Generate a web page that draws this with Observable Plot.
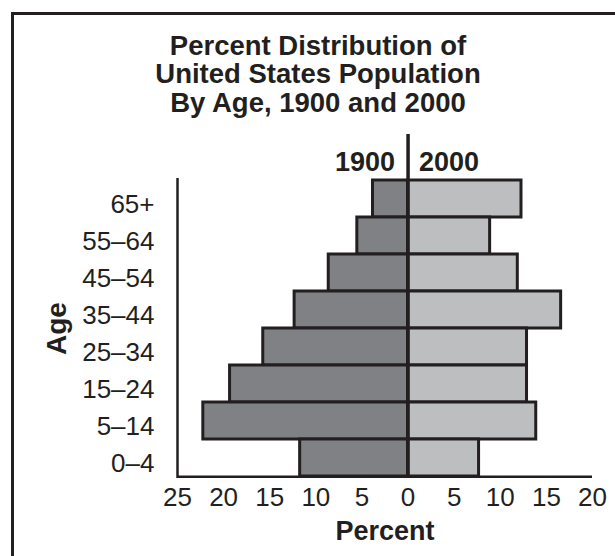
<!DOCTYPE html>
<html>
<head>
<meta charset="utf-8">
<script src="https://cdn.jsdelivr.net/npm/d3@7"></script>
<script src="https://cdn.jsdelivr.net/npm/@observablehq/plot@0.6"></script>
<style>
  html, body { margin: 0; padding: 0; background: #fff; }
  #wrap { position: relative; width: 615px; height: 556px; overflow: hidden; background: #fff; }
  #box { position: absolute; left: 11px; top: 12px; width: 700px; height: 700px; border: 3px solid #231f20; box-sizing: border-box; }
  #title { position: absolute; left: 12px; width: 612px; top: 32px; text-align: center;
           font-family: "Liberation Sans", Arial, sans-serif; font-weight: bold; font-size: 27.5px;
           line-height: 28.3px; color: #231f20; }
  #chart { position: absolute; left: 0; top: 120px; }
</style>
</head>
<body>
<div id="wrap">
  <div id="box"></div>
  <div id="title">Percent Distribution of<br>United States Population<br>By Age, 1900 and 2000</div>
  <div id="chart"></div>
</div>
<script>
const ages = ["65+", "55–64", "45–54", "35–44", "25–34", "15–24", "5–14", "0–4"];
const pct1900 = [3.8, 5.5, 8.6, 12.3, 15.7, 19.3, 22.2, 11.7];
const pct2000 = [12.3, 8.9, 11.9, 16.6, 12.9, 12.9, 13.9, 7.7];
const xTicks = [-25, -20, -15, -10, -5, 0, 5, 10, 15, 20];
const yearLabels = ["1900", "2000"];

const ink = "#231f20";
const d1900 = ages.map((a, i) => ({age: a, v: pct1900[i]}));
const d2000 = ages.map((a, i) => ({age: a, v: pct2000[i]}));

const frameH = 300;
const chart = Plot.plot({
  width: 615,
  height: 436,
  marginLeft: 177,
  marginRight: 23,
  marginTop: 58,
  marginBottom: 78,
  x: {domain: [-25, 20]},
  y: {domain: ages, padding: 0},
  style: {fontFamily: "'Liberation Sans', Arial, sans-serif", color: ink, background: "transparent", overflow: "visible"},
  marks: [
    Plot.barX(d1900, {y: "age", x1: d => -d.v, x2: 0, fill: "#808184", stroke: ink, strokeWidth: 3}),
    Plot.barX(d2000, {y: "age", x1: 0, x2: "v", fill: "#bcbec0", stroke: ink, strokeWidth: 3}),
    Plot.ruleX([-25], {stroke: ink, strokeWidth: 2.5}),
    Plot.ruleY([ages[ages.length - 1]], {stroke: ink, strokeWidth: 2.5, dy: frameH / ages.length / 2}),
    Plot.ruleX([0], {stroke: ink, strokeWidth: 3.5, insetTop: -44}),
    Plot.axisX({ticks: xTicks, tickFormat: d => Math.abs(d), tickSize: 0, tickPadding: 9, fontSize: 26, label: null, fill: ink}),
    Plot.axisY({tickSize: 0, tickPadding: 23, dy: 5.5, fontSize: 26, label: null, fill: ink}),
    Plot.text([yearLabels[0]], {x: 0, text: d => d, frameAnchor: "top", textAnchor: "end", lineAnchor: "middle", dx: -13, dy: -16.6, fontSize: 27, fontWeight: "bold", fill: ink}),
    Plot.text([yearLabels[1]], {x: 0, text: d => d, frameAnchor: "top", textAnchor: "start", lineAnchor: "middle", dx: 11, dy: -16.6, fontSize: 27, fontWeight: "bold", fill: ink}),
    Plot.text(["Age"], {text: d => d, frameAnchor: "left", rotate: -90, textAnchor: "middle", lineAnchor: "middle", dx: -120, fontSize: 28, fontWeight: "bold", fill: ink}),
    Plot.text(["Percent"], {text: d => d, frameAnchor: "bottom", textAnchor: "middle", lineAnchor: "middle", dy: 52.9, fontSize: 27, fontWeight: "bold", fill: ink})
  ]
});
document.getElementById("chart").appendChild(chart);
</script>
</body>
</html>
